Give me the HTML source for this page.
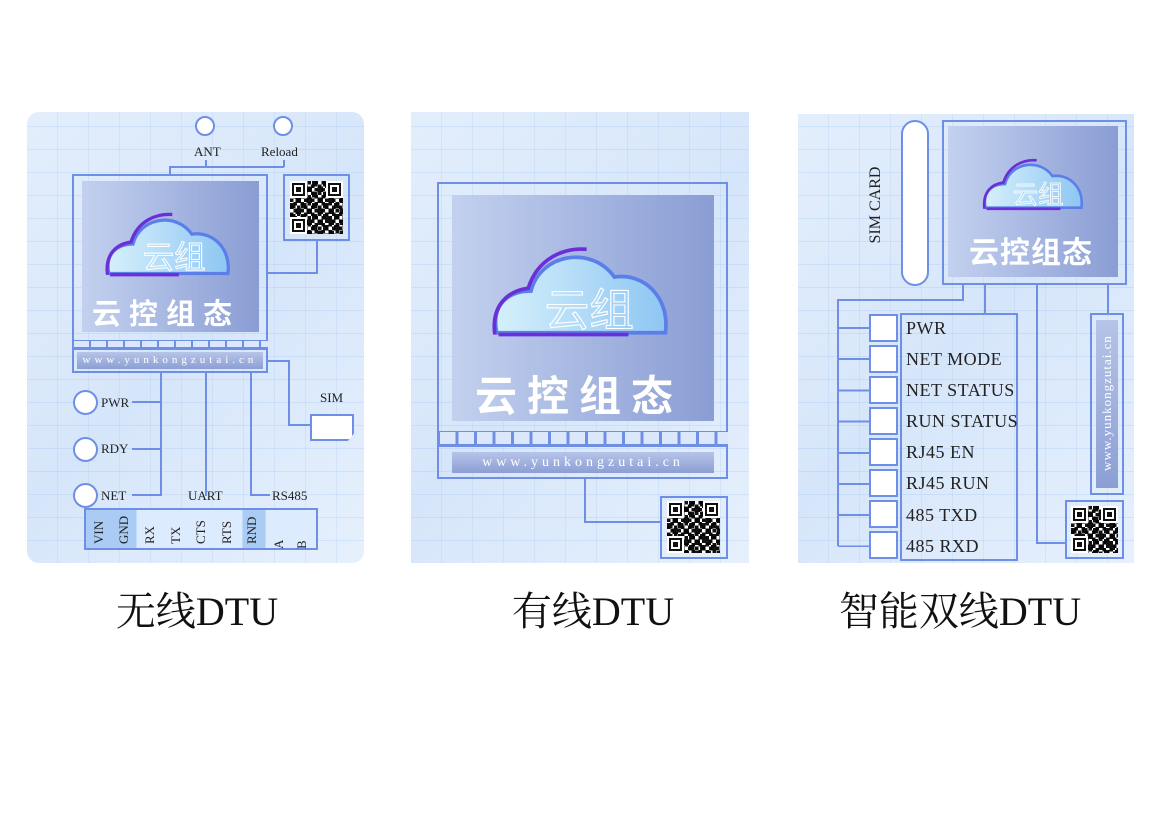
<!DOCTYPE html>
<html><head><meta charset="utf-8"><style>
*{margin:0;padding:0;box-sizing:border-box}
body{width:1161px;height:825px;background:#fff;position:relative;overflow:hidden;font-family:"Liberation Serif","Noto Serif CJK SC",serif}
.a{position:absolute}
.panel{position:absolute;background:linear-gradient(135deg,#e3eefc 0%,#d6e6fa 50%,#e6f0fd 100%);overflow:hidden}
.panel:before{content:"";position:absolute;inset:0;background:
 repeating-linear-gradient(0deg,transparent 0 22px,rgba(120,170,230,.18) 22px 23px),
 repeating-linear-gradient(90deg,transparent 0 30px,rgba(120,170,230,.14) 30px 31px);}
.fr{position:absolute;border:2px solid #6f8fe6}
.scr{position:absolute;background:linear-gradient(90deg,#c3d1ef,#8a9dd4)}
.ln{position:absolute;background:#6f8fe6}
.led{position:absolute;border:2px solid #6f8fe6;background:#fff;border-radius:50%}
.t{position:absolute;font-family:"Liberation Serif",serif;color:#222;white-space:nowrap}
.cn{position:absolute;color:#fff;font-family:"Liberation Sans","Noto Sans CJK SC",sans-serif;font-weight:bold;white-space:nowrap}
.qr{position:absolute;background-color:#fff;
 background-image:conic-gradient(#111 25%,#fff 0 50%,#111 0 75%,#fff 0),conic-gradient(#fff 25%,#111 0 50%,#fff 0 75%,#111 0);
 background-size:7px 7px,11px 11px;background-blend-mode:multiply}
.fd{position:absolute;width:13px;height:13px;border:2px solid #111;background:#fff;outline:2px solid #fff}
.fd:after{content:"";position:absolute;left:2px;top:2px;width:5px;height:5px;background:#111}
.url{position:absolute;background:linear-gradient(180deg,#b6c4e8,#8c9fd4);color:#fff;font-family:"Liberation Serif",serif;white-space:nowrap;text-align:center}
.cap{position:absolute;font-family:"Liberation Serif","Noto Serif CJK SC",serif;font-size:40px;color:#111;white-space:nowrap;text-align:center}
.pin{position:absolute;background:repeating-linear-gradient(90deg,#6f8fe6 0 2px,#dbe8fb 2px 17px);border-bottom:2px solid #6f8fe6}
.vt{position:absolute;transform:rotate(-90deg);transform-origin:center;font-family:"Liberation Serif",serif;font-size:13px;color:#222;white-space:nowrap}
.lb{position:absolute;font-family:"Liberation Serif",serif;color:#222;white-space:pre;font-size:18px;line-height:22px;letter-spacing:0.5px}
</style></head><body>

<!-- PANEL 1 -->
<div class="panel" style="left:27px;top:112px;width:337px;height:451px;border-radius:12px"></div>
<div class="led" style="left:195px;top:116px;width:20px;height:20px"></div>
<div class="led" style="left:273px;top:116px;width:20px;height:20px"></div>
<div class="t" style="left:194px;top:144px;font-size:13px">ANT</div>
<div class="t" style="left:261px;top:144px;font-size:13px">Reload</div>
<div class="ln" style="left:205px;top:160px;width:2px;height:7px"></div>
<div class="ln" style="left:169px;top:166px;width:115px;height:2px"></div>
<div class="ln" style="left:169px;top:166px;width:2px;height:9px"></div>
<div class="ln" style="left:283px;top:160px;width:2px;height:7px"></div>
<div class="fr" style="left:72px;top:174px;width:196px;height:168px"></div>
<div class="scr" style="left:82px;top:181px;width:177px;height:151px"></div>
<svg class="a" style="left:103px;top:208px" width="132" height="72" viewBox="0 0 200 110">
<defs><linearGradient id="cg" x1="0" x2="1"><stop offset="0" stop-color="#d6f0fb"/><stop offset="1" stop-color="#8ec6f3"/></linearGradient></defs>
<path d="M8,100 C2,70 20,55 45,55 C55,15 110,5 135,40 C165,35 195,60 190,100 Z" fill="url(#cg)" stroke="#5b7ee8" stroke-width="5"/>
<path d="M6,102 C2,70 20,55 42,52 C52,20 80,8 105,10" fill="none" stroke="#6a2fd8" stroke-width="5"/>
<line x1="10" y1="102" x2="115" y2="102" stroke="#6a2fd8" stroke-width="5"/>
<text x="60" y="92" font-family="Liberation Sans,Noto Sans CJK SC,sans-serif" font-size="48" fill="none" stroke="#fff" stroke-width="1.5">云组</text></svg>
<div class="cn" style="left:92px;top:291px;font-size:29px;letter-spacing:8px">云控组态</div>
<div class="pin" style="left:72px;top:341px;width:196px;height:8px"></div>
<div class="fr" style="left:72px;top:348px;width:196px;height:25px"></div>
<div class="url" style="left:77px;top:352px;width:186px;height:17px;font-size:11px;letter-spacing:4px;line-height:17px">www.yunkongzutai.cn</div>
<div class="fr" style="left:283px;top:174px;width:67px;height:67px"></div>
<div class="qr" style="left:290px;top:181px;width:53px;height:53px"></div>
<div class="fd" style="left:292px;top:183px"></div><div class="fd" style="left:328px;top:183px"></div><div class="fd" style="left:292px;top:219px"></div>
<div class="ln" style="left:316px;top:241px;width:2px;height:32px"></div>
<div class="ln" style="left:268px;top:272px;width:50px;height:2px"></div>
<div class="ln" style="left:268px;top:360px;width:22px;height:2px"></div>
<div class="ln" style="left:288px;top:360px;width:2px;height:66px"></div>
<div class="ln" style="left:288px;top:424px;width:24px;height:2px"></div>
<div class="t" style="left:320px;top:390px;font-size:13px">SIM</div>
<div class="a" style="left:310px;top:414px;width:44px;height:27px;background:#fff;border:2px solid #6f8fe6;clip-path:polygon(0 0,100% 0,100% 72%,86% 100%,0 100%)"></div>
<div class="ln" style="left:160px;top:372px;width:2px;height:124px"></div>
<div class="ln" style="left:132px;top:401px;width:30px;height:2px"></div>
<div class="ln" style="left:132px;top:448px;width:30px;height:2px"></div>
<div class="ln" style="left:132px;top:494px;width:30px;height:2px"></div>
<div class="ln" style="left:205px;top:372px;width:2px;height:124px"></div>
<div class="ln" style="left:250px;top:372px;width:2px;height:124px"></div>
<div class="ln" style="left:250px;top:494px;width:20px;height:2px"></div>
<div class="led" style="left:73px;top:390px;width:25px;height:25px"></div>
<div class="led" style="left:73px;top:437px;width:25px;height:25px"></div>
<div class="led" style="left:73px;top:483px;width:25px;height:25px"></div>
<div class="t" style="left:101px;top:395px;font-size:13px">PWR</div>
<div class="t" style="left:101px;top:441px;font-size:13px">RDY</div>
<div class="t" style="left:101px;top:488px;font-size:13px">NET</div>
<div class="t" style="left:188px;top:488px;font-size:13px">UART</div>
<div class="t" style="left:272px;top:488px;font-size:13px">RS485</div>
<div class="a" style="left:84px;top:508px;width:234px;height:42px;border:2px solid #6f8fe6;background:linear-gradient(90deg,#a9cbf4 0 22%,#dcebfd 22% 68%,#a9cbf4 68% 78%,#dcebfd 78%)"></div>
<div class="vt" style="left:84px;top:521px;width:30px">VIN</div>
<div class="vt" style="left:109px;top:521px;width:30px">GND</div>
<div class="vt" style="left:135px;top:521px;width:30px">RX</div>
<div class="vt" style="left:161px;top:521px;width:30px">TX</div>
<div class="vt" style="left:186px;top:521px;width:30px">CTS</div>
<div class="vt" style="left:212px;top:521px;width:30px">RTS</div>
<div class="vt" style="left:237px;top:521px;width:30px">RND</div>
<div class="vt" style="left:264px;top:526px;width:30px">A</div>
<div class="vt" style="left:287px;top:526px;width:30px">B</div>

<!-- PANEL 2 -->
<div class="panel" style="left:411px;top:112px;width:338px;height:451px"></div>
<div class="fr" style="left:437px;top:182px;width:291px;height:251px"></div>
<div class="scr" style="left:452px;top:195px;width:262px;height:226px"></div>
<svg class="a" style="left:487px;top:240px" width="190" height="102" viewBox="0 0 200 110">
<path d="M8,100 C2,70 20,55 45,55 C55,15 110,5 135,40 C165,35 195,60 190,100 Z" fill="url(#cg)" stroke="#5b7ee8" stroke-width="4"/>
<path d="M6,102 C2,70 20,55 42,52 C52,20 80,8 105,10" fill="none" stroke="#6a2fd8" stroke-width="4"/>
<line x1="10" y1="102" x2="150" y2="102" stroke="#6a2fd8" stroke-width="4"/>
<text x="60" y="92" font-family="Liberation Sans,Noto Sans CJK SC,sans-serif" font-size="48" fill="none" stroke="#fff" stroke-width="1.2">云组</text></svg>
<div class="cn" style="left:475px;top:363px;font-size:42px;letter-spacing:10px">云控组态</div>
<div class="pin" style="left:437px;top:432px;width:291px;height:14px;background:repeating-linear-gradient(90deg,#6f8fe6 0 3px,#dbe8fb 3px 18.5px)"></div>
<div class="fr" style="left:437px;top:445px;width:291px;height:34px"></div>
<div class="url" style="left:452px;top:452px;width:262px;height:21px;font-size:14px;letter-spacing:4px;line-height:21px">www.yunkongzutai.cn</div>
<div class="ln" style="left:584px;top:478px;width:2px;height:45px"></div>
<div class="ln" style="left:584px;top:521px;width:77px;height:2px"></div>
<div class="fr" style="left:660px;top:496px;width:68px;height:63px"></div>
<div class="qr" style="left:667px;top:501px;width:53px;height:52px"></div>
<div class="fd" style="left:669px;top:503px"></div><div class="fd" style="left:705px;top:503px"></div><div class="fd" style="left:669px;top:538px"></div>

<!-- PANEL 3 -->
<div class="panel" style="left:798px;top:114px;width:336px;height:449px"></div>
<div class="a" style="left:901px;top:120px;width:28px;height:166px;border:2px solid #6f8fe6;border-radius:14px;background:#fff"></div>
<div class="vt" style="left:826px;top:196px;width:100px;font-size:16px;text-align:center">SIM CARD</div>
<div class="fr" style="left:942px;top:120px;width:185px;height:165px"></div>
<div class="scr" style="left:948px;top:126px;width:170px;height:151px"></div>
<svg class="a" style="left:980px;top:155px" width="108" height="58" viewBox="0 0 200 110">
<path d="M8,100 C2,70 20,55 45,55 C55,15 110,5 135,40 C165,35 195,60 190,100 Z" fill="url(#cg)" stroke="#5b7ee8" stroke-width="5"/>
<path d="M6,102 C2,70 20,55 42,52 C52,20 80,8 105,10" fill="none" stroke="#6a2fd8" stroke-width="5"/>
<line x1="10" y1="102" x2="150" y2="102" stroke="#6a2fd8" stroke-width="5"/>
<text x="60" y="92" font-family="Liberation Sans,Noto Sans CJK SC,sans-serif" font-size="48" fill="none" stroke="#fff" stroke-width="1.5">云组</text></svg>
<div class="cn" style="left:969px;top:228px;font-size:30px;letter-spacing:1px">云控组态</div>
<div class="ln" style="left:962px;top:284px;width:2px;height:17px"></div>
<div class="ln" style="left:837px;top:299px;width:127px;height:2px"></div>
<div class="ln" style="left:837px;top:299px;width:2px;height:247px"></div>
<div class="ln" style="left:984px;top:284px;width:2px;height:30px"></div>
<div class="ln" style="left:1036px;top:284px;width:2px;height:260px"></div>
<div class="ln" style="left:1036px;top:542px;width:30px;height:2px"></div>
<div class="ln" style="left:1107px;top:284px;width:2px;height:30px"></div>
<div class="fr" style="left:900px;top:313px;width:118px;height:248px"></div>
<div class="fr" style="left:1090px;top:313px;width:34px;height:182px"></div>
<div class="url" style="left:1096px;top:320px;width:22px;height:168px"></div>
<div class="vt" style="left:1023px;top:395px;width:168px;font-size:13px;color:#fff;letter-spacing:1px;text-align:center">www.yunkongzutai.cn</div>
<div class="fr" style="left:1065px;top:500px;width:59px;height:59px"></div>
<div class="qr" style="left:1071px;top:506px;width:47px;height:47px"></div>
<div class="fd" style="left:1073px;top:508px"></div><div class="fd" style="left:1103px;top:508px"></div><div class="fd" style="left:1073px;top:538px"></div>

<div class="a" style="left:838px;top:327px;width:32px;height:220px;background:repeating-linear-gradient(180deg,#6f8fe6 0 2px,transparent 2px 31.2px)"></div>
<div class="fr" style="left:869px;top:314px;width:29px;height:28px;background:#fff"></div>
<div class="fr" style="left:869px;top:345px;width:29px;height:28px;background:#fff"></div>
<div class="fr" style="left:869px;top:376px;width:29px;height:28px;background:#fff"></div>
<div class="fr" style="left:869px;top:407px;width:29px;height:28px;background:#fff"></div>
<div class="fr" style="left:869px;top:438px;width:29px;height:28px;background:#fff"></div>
<div class="fr" style="left:869px;top:469px;width:29px;height:28px;background:#fff"></div>
<div class="fr" style="left:869px;top:500px;width:29px;height:28px;background:#fff"></div>
<div class="fr" style="left:869px;top:531px;width:29px;height:28px;background:#fff"></div>
<div class="lb" style="left:906px;top:317px">PWR</div>
<div class="lb" style="left:906px;top:348px">NET MODE</div>
<div class="lb" style="left:906px;top:379px">NET STATUS</div>
<div class="lb" style="left:906px;top:410px">RUN STATUS</div>
<div class="lb" style="left:906px;top:441px">RJ45 EN</div>
<div class="lb" style="left:906px;top:472px">RJ45 RUN</div>
<div class="lb" style="left:906px;top:504px">485 TXD</div>
<div class="lb" style="left:906px;top:535px">485 RXD</div>

<!-- captions -->
<div class="cap" style="left:87px;top:580px;width:220px">无线DTU</div>
<div class="cap" style="left:483px;top:580px;width:220px">有线DTU</div>
<div class="cap" style="left:810px;top:580px;width:300px">智能双线DTU</div>
</body></html>
